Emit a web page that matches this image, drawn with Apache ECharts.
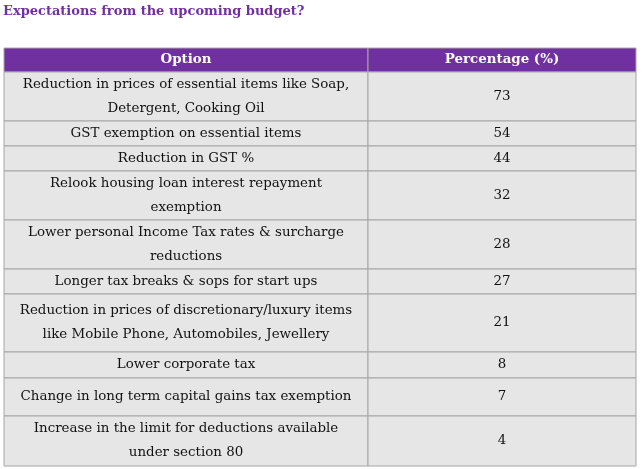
<!DOCTYPE html>
<html>
<head>
<meta charset="utf-8">
<script src="https://cdn.jsdelivr.net/npm/echarts@6/dist/echarts.min.js"></script>
<style>
  html, body { margin: 0; padding: 0; background: #fff; }
  #chart { width: 644px; height: 469px; }
</style>
</head>
<body>
<div id="chart"></div>
<script>
const title = 'Expectations from the upcoming budget?';
const headers = ['Option', 'Percentage (%)'];
const options = [
  'Reduction in prices of essential items like Soap,\nDetergent, Cooking Oil',
  'GST exemption on essential items',
  'Reduction in GST %',
  'Relook housing loan interest repayment\nexemption',
  'Lower personal Income Tax rates & surcharge\nreductions',
  'Longer tax breaks & sops for start ups',
  'Reduction in prices of discretionary/luxury items\nlike Mobile Phone, Automobiles, Jewellery',
  'Lower corporate tax',
  'Change in long term capital gains tax exemption',
  'Increase in the limit for deductions available\nunder section 80'
];
const percentages = [73, 54, 44, 32, 28, 27, 21, 8, 7, 4];

// layout of the table (header row first)
const rowHeights = [24, 49, 25, 25, 49, 49, 25, 58, 26, 38, 50];
const colWidths = [364, 268];
const tableWidth = colWidths[0] + colWidths[1];
const tableHeight = rowHeights.reduce((a, b) => a + b, 0);
const rowTops = [];
rowHeights.reduce((acc, h) => { rowTops.push(acc); return acc + h; }, 0);

const chart = echarts.init(document.getElementById('chart'));

function cell(api, x0, x1, y0, y1, text, header) {
  const a = api.coord([x0, y0]);
  const b = api.coord([x1, y1]);
  return [
    {
      type: 'rect',
      shape: { x: a[0], y: a[1], width: b[0] - a[0], height: b[1] - a[1] },
      style: { fill: header ? '#7030A0' : '#E7E6E6', stroke: '#A6A6A6', lineWidth: 1 }
    },
    {
      type: 'text',
      style: {
        text: String(text),
        x: (a[0] + b[0]) / 2,
        y: (a[1] + b[1]) / 2,
        align: 'center',
        verticalAlign: 'middle',
        fontFamily: 'DejaVu Serif',
        fontSize: 13.4,
        fontWeight: header ? 'bold' : 'normal',
        lineHeight: 24,
        fill: header ? '#ffffff' : '#111111'
      }
    }
  ];
}

chart.setOption({
  animation: false,
  title: {
    text: title,
    left: 3,
    top: 5,
    padding: 0,
    textStyle: { color: '#7030A0', fontFamily: 'DejaVu Serif', fontWeight: 'bold', fontSize: 13 }
  },
  grid: { left: 4, top: 48, width: tableWidth, height: tableHeight },
  xAxis: { type: 'value', min: 0, max: tableWidth, show: false },
  yAxis: { type: 'value', min: 0, max: tableHeight, inverse: true, show: false },
  series: [{
    type: 'custom',
    coordinateSystem: 'cartesian2d',
    data: [[0, headers[1]]].concat(percentages.map((p, i) => [i + 1, p])),
    renderItem: function (params, api) {
      const i = params.dataIndex;
      const header = i === 0;
      const y0 = rowTops[i];
      const y1 = y0 + rowHeights[i];
      const left = header ? headers[0] : options[i - 1];
      const right = header ? headers[1] : percentages[i - 1];
      return {
        type: 'group',
        children: cell(api, 0, colWidths[0], y0, y1, left, header)
          .concat(cell(api, colWidths[0], tableWidth, y0, y1, right, header))
      };
    }
  }]
});
</script>
</body>
</html>
